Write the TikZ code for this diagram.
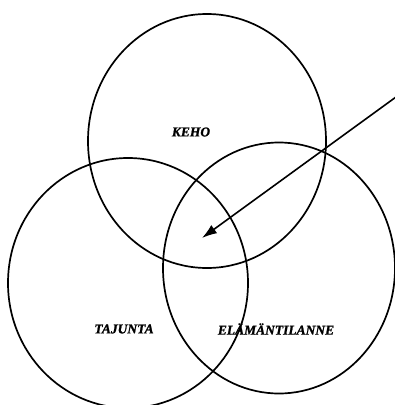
\documentclass[tikz,border=0pt]{standalone}
\usepackage{fontspec}
\setmainfont{Liberation Serif}[BoldItalicFeatures={FakeBold=1.2}]
\usetikzlibrary{arrows.meta}
\begin{document}
\begin{tikzpicture}[x=1pt,y=-1pt,
  ring/.style={draw=black,line width=1.7pt},
  lbl/.style={font=\fontsize{13.5}{15}\selectfont\bfseries\itshape,inner sep=0pt},
  pointer/.style={draw=black,line width=1.6pt,-{Latex[length=15pt,width=10pt]}}]
\useasboundingbox (0,0) rectangle (395,405);
\coordinate (ctop) at (207,141);
\coordinate (cleft) at (128,283);
\coordinate (cright) at (279,268);
\draw[ring] (ctop) ellipse [x radius=119, y radius=127];
\draw[ring] (cleft) ellipse [x radius=120, y radius=125];
\draw[ring] (cright) ellipse [x radius=116, y radius=125.5];
\node[lbl] (keho) at (191,132) {KEHO};
\node[lbl] (tajunta) at (124,329) {TAJUNTA};
\node[lbl] (elama) at (276,329) {ELÄMÄNTILANNE};
\coordinate (astart) at (396,97);
\coordinate (atip) at (202,238);
\draw[pointer] (astart) -- (atip);
\end{tikzpicture}
\end{document}
